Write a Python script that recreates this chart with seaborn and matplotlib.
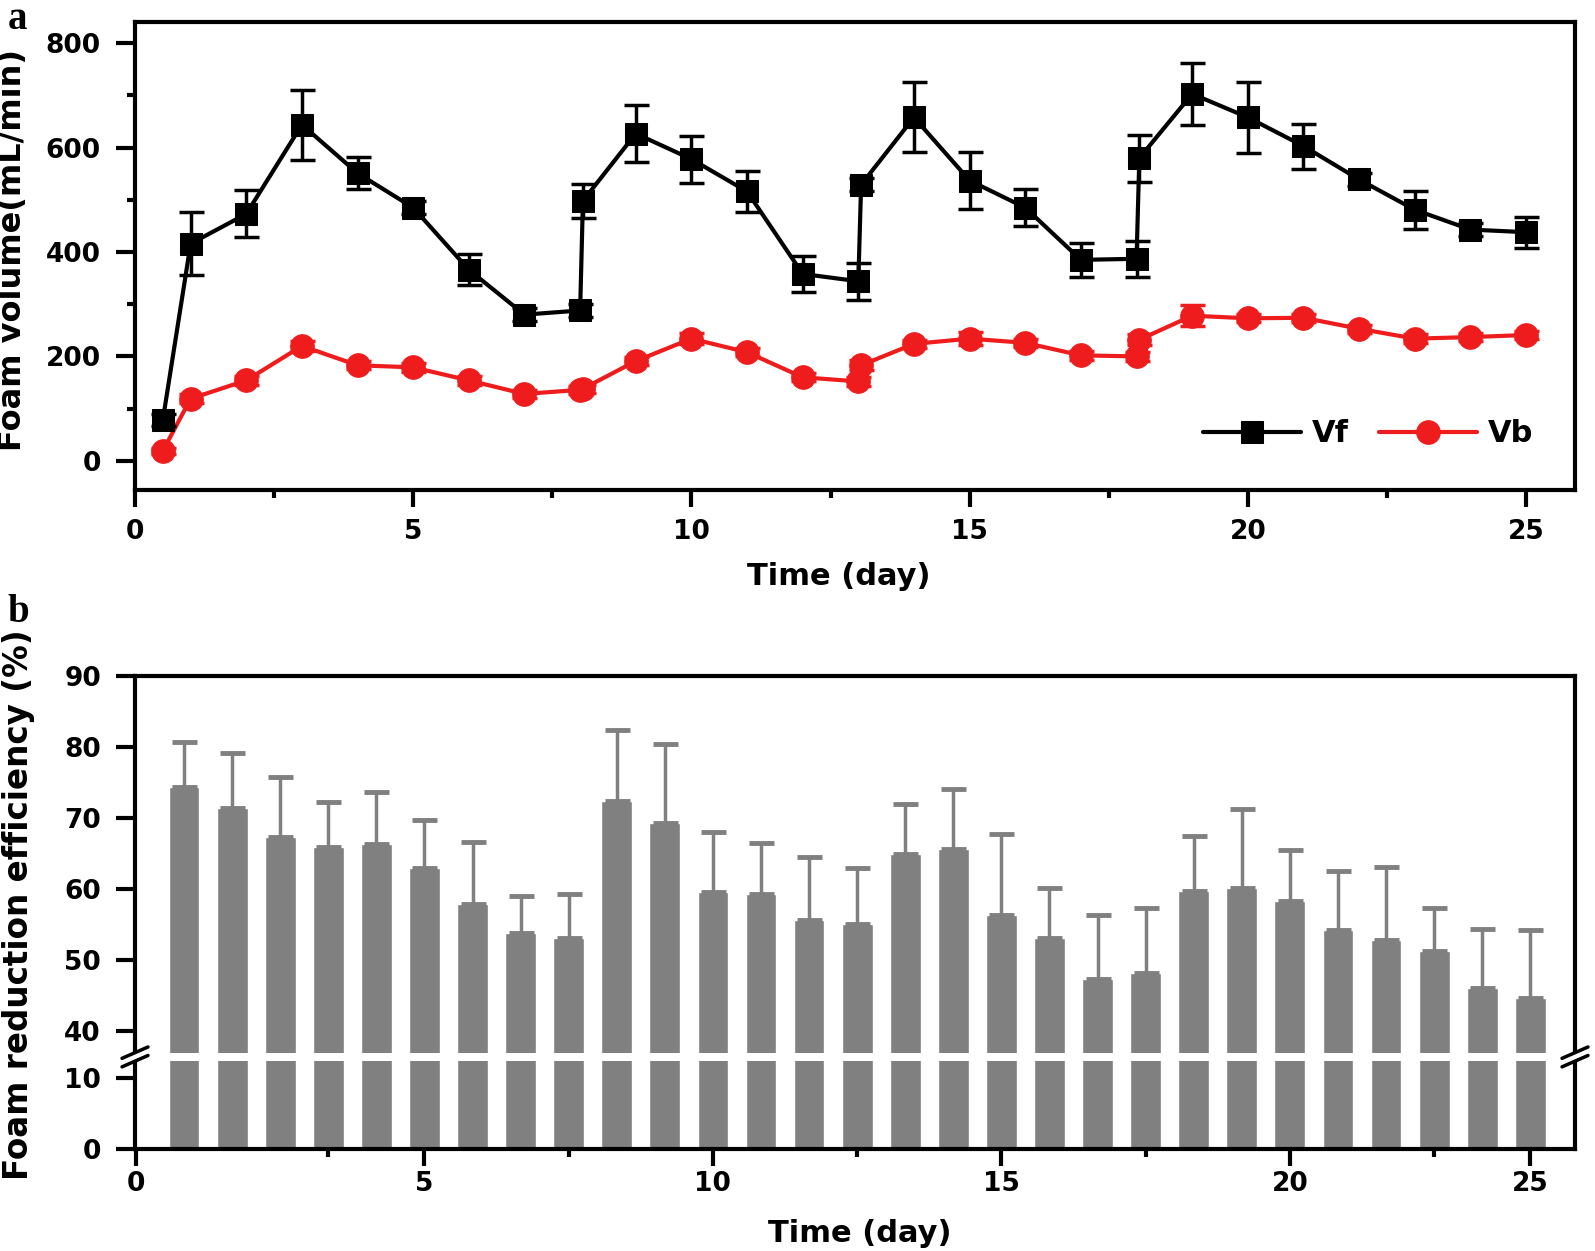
import numpy as np
import matplotlib
matplotlib.use("Agg")
import matplotlib.pyplot as plt
import seaborn as sns

# sampling days (second sample on days 8, 13, 18)
days = [0.5, 1, 2, 3, 4, 5, 6, 7, 8, 8.05, 9, 10, 11, 12, 13, 13.05, 14, 15,
        16, 17, 18, 18.05, 19, 20, 21, 22, 23, 24, 25]

vf = [78, 416, 473, 644, 551, 485, 366, 280, 288, 498, 627, 578, 516, 358, 344,
      529, 658, 537, 485, 385, 387, 580, 703, 658, 603, 539, 481, 443, 438]
vf_err = [12, 60, 45, 67, 31, 12, 30, 12, 12, 33, 55, 45, 40, 34, 35,
          12, 67, 55, 36, 33, 35, 45, 60, 68, 43, 12, 36, 12, 30]

vb = [19, 119, 154, 220, 183, 179, 154, 128, 136, 138, 191, 234, 208, 160, 152,
      183, 224, 234, 226, 202, 200, 232, 278, 273, 274, 253, 234, 237, 241]
vb_err = [6, 8, 8, 10, 8, 8, 8, 8, 8, 8, 8, 10, 8, 8, 8,
          10, 8, 12, 8, 8, 8, 10, 20, 8, 8, 8, 8, 8, 8]

eff = [74.4, 71.4, 67.4, 66.0, 66.4, 63.0, 57.9, 53.9, 53.1, 72.4, 69.3, 59.6,
       59.3, 55.6, 55.1, 65.0, 65.7, 56.3, 53.1, 47.4, 48.2, 59.7, 60.2, 58.4,
       54.3, 52.8, 51.3, 46.1, 44.7]
eff_cap = [80.7, 79.1, 75.8, 72.2, 73.7, 69.8, 66.7, 59.0, 59.3, 82.4, 80.5, 68.1,
           66.5, 64.5, 63.0, 72.0, 74.1, 67.7, 60.1, 56.4, 57.4, 67.5, 71.3, 65.5,
           62.5, 63.1, 57.3, 54.4, 54.2]

b_tick_pos = [-1, 5, 11, 17, 23, 28]
b_tick_lab = ["0", "5", "10", "15", "20", "25"]
b_minor_pos = [3, 8, 14, 20, 26]

sns.set_style("ticks")
plt.rcParams['font.family'] = ['DejaVu Sans']
plt.rcParams['font.weight'] = 'bold'
plt.rcParams['axes.labelweight'] = 'bold'
for k in ('text.color', 'axes.labelcolor', 'xtick.color', 'ytick.color',
          'xtick.labelcolor', 'ytick.labelcolor'):
    plt.rcParams[k] = 'black'

W, H = 1595, 1251
fig = plt.figure(figsize=(W / 100, H / 100), dpi=100)

def box(l, t, r, b):
    return [l / W, 1 - b / H, (r - l) / W, (b - t) / H]

ax1 = fig.add_axes(box(135, 22.4, 1575, 490))
ax2 = fig.add_axes(box(135, 676, 1575, 1149))

SP = 3.0
for ax in (ax1, ax2):
    for s in ax.spines.values():
        s.set_linewidth(SP)
        s.set_color('black')
    ax.tick_params(which='major', direction='out', width=SP, labelsize=19,
                   color='black', labelcolor='black')
    ax.tick_params(which='minor', direction='out', length=6, width=SP, color='black')
    ax.tick_params(axis='y', which='major', length=14, pad=10.5)

ax1.tick_params(axis='x', which='major', length=12, pad=9)
ax2.tick_params(axis='x', which='major', length=12, pad=3.5)

# ---- panel a ----
sns.lineplot(x=days, y=vf, ax=ax1, color='black', lw=3, marker='s',
             markersize=16, markeredgecolor='black', label='Vf', zorder=4)
sns.lineplot(x=days, y=vb, ax=ax1, color='#ee1c1c', lw=3, marker='o',
             markersize=17, markeredgecolor='#ee1c1c', label='Vb', zorder=3)
ax1.errorbar(days, vf, yerr=vf_err, fmt='none', ecolor='black', elinewidth=2.5,
             capsize=9, capthick=2.5, zorder=3.5)
ax1.errorbar(days, vb, yerr=vb_err, fmt='none', ecolor='#ee1c1c', elinewidth=2.5,
             capsize=9, capthick=2.5, zorder=2.5)
ax1.set_xlim(0, 25.88)
ax1.set_ylim(-56, 840)
ax1.set_xticks([0, 5, 10, 15, 20, 25])
ax1.set_xticks(np.arange(2.5, 25, 5), minor=True)
ax1.set_yticks([0, 200, 400, 600, 800])
ax1.set_yticks([100, 300, 500, 700], minor=True)
ax1.set_xlabel('Time (day)', fontsize=22, va='center')
ax1.xaxis.set_label_coords(0.489, -0.186)
ax1.set_ylabel('Foam volume(mL/min)', fontsize=23, va='center')
ax1.yaxis.set_label_coords(-0.085, 0.513)
leg = ax1.legend(loc='lower right', ncol=2, frameon=False, fontsize=22,
                 handlelength=3.2, columnspacing=1.0, handletextpad=0.36,
                 bbox_to_anchor=(0.99, 0.03))

# ---- panel b (broken y axis) ----
lo, hi, g = 12.35, 37.0, 1.22

def fwd(y):
    y = np.asarray(y, float)
    return np.where(y <= lo, y, np.where(y >= hi, y - (hi - lo - g),
                                         lo + (y - lo) * g / (hi - lo)))

def inv(t):
    t = np.asarray(t, float)
    return np.where(t <= lo, t, np.where(t >= lo + g, t + (hi - lo - g),
                                         lo + (t - lo) * (hi - lo) / g))

ax2.set_yscale('function', functions=(fwd, inv))
sns.barplot(x=days, y=eff, ax=ax2, color='#808080', saturation=1,
            width=0.64, errorbar=None, zorder=1)
pos = np.arange(len(eff))
up = np.array(eff_cap) - np.array(eff)
ax2.errorbar(pos, eff, yerr=[np.zeros_like(up), up], fmt='none',
             ecolor='#808080', elinewidth=2.5, capsize=9, capthick=3.5, zorder=1.2)
ax2.axhspan(lo, hi, color='white', zorder=1.5, lw=0)
ax2.set_ylim(0, 90)
ax2.set_yticks([0, 10, 40, 50, 60, 70, 80, 90])
ax2.set_yticklabels(['0', '10', '40', '50', '60', '70', '80', '90'])
ax2.yaxis.set_minor_locator(matplotlib.ticker.NullLocator())
ax2.set_xlim(-1.02, 28.93)
ax2.set_xticks(b_tick_pos)
ax2.set_xticklabels(b_tick_lab)
ax2.set_xticks(b_minor_pos, minor=True)
ax2.set_xlabel('Time (day)', fontsize=22, va='center')
ax2.xaxis.set_label_coords(0.503, -0.178)
ax2.set_ylabel('Foam reduction efficiency (%)', fontsize=23.5, va='center')
ax2.yaxis.set_label_coords(-0.081, 0.516)

# break marks on both side spines
yb = (lo + g / 2) / float(fwd(90))
for xs in (0, 1):
    ax2.plot([xs - 0.009, xs + 0.009], [yb - 0.012, yb + 0.012], transform=ax2.transAxes,
             color='white', lw=7, clip_on=False, zorder=5)
    for dy in (-0.009, 0.009):
        ax2.plot([xs - 0.009, xs + 0.009], [yb + dy - 0.012, yb + dy + 0.012],
                 transform=ax2.transAxes, color='black', lw=2.5, clip_on=False, zorder=6)

fig.text(8 / W, 1 - 1 / H, 'a', fontsize=28, fontweight='bold', va='top',
         family='Liberation Serif')
fig.text(7 / W, 1 - 613 / H, 'b', fontsize=28, fontweight='bold', va='center',
         family='Liberation Serif')

fig.savefig('out.png', dpi=100)
